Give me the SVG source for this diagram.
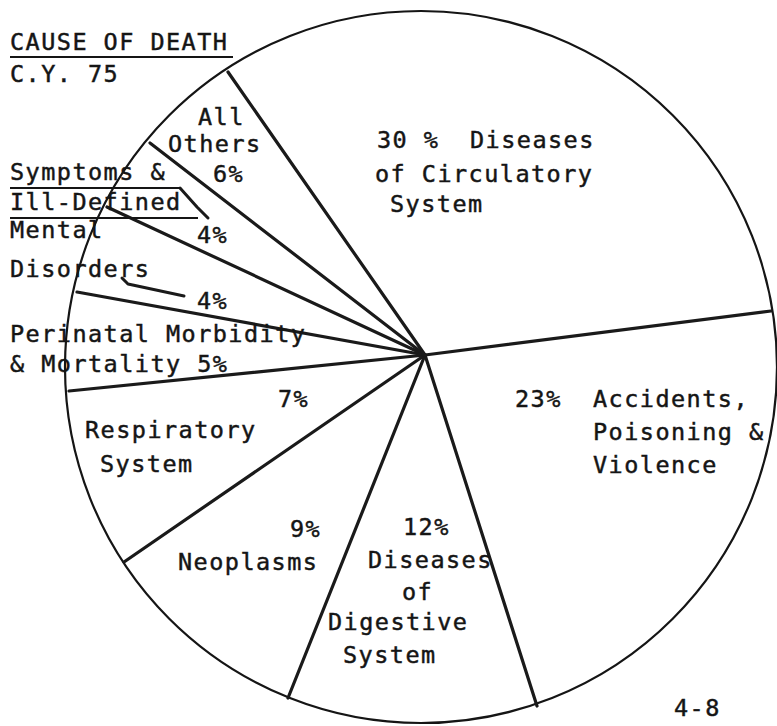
<svg xmlns="http://www.w3.org/2000/svg" width="777" height="726" viewBox="0 0 777 726">
<style>
text{font-family:"DejaVu Sans Mono","Liberation Mono",monospace;font-size:23.5px;letter-spacing:1.45px;fill:#151515;stroke:#151515;stroke-width:0.45}
.rim{fill:none;stroke:#151515;stroke-width:2.2}
.spoke{stroke:#1a1a1a;stroke-width:3.2;stroke-linecap:round;fill:none}
.ul{stroke:#151515;stroke-width:2;fill:none}
.lead{stroke:#1a1a1a;stroke-width:3;fill:none;stroke-linecap:round;stroke-linejoin:round}
</style>
<rect width="777" height="726" fill="#ffffff"/>
<circle id="pie-rim" class="rim" cx="421" cy="367" r="356"/>
<g id="connectors">
<line class="spoke" x1="425" y1="355" x2="771" y2="311"/>
<line class="spoke" x1="425" y1="355" x2="537" y2="706"/>
<line class="spoke" x1="425" y1="355" x2="288" y2="698"/>
<line class="spoke" x1="425" y1="355" x2="124" y2="562"/>
<line class="spoke" x1="425" y1="355" x2="69" y2="391"/>
<line class="spoke" x1="425" y1="355" x2="77" y2="292"/>
<line class="spoke" x1="425" y1="355" x2="107" y2="207"/>
<line class="spoke" x1="425" y1="355" x2="150" y2="143"/>
<line class="spoke" x1="425" y1="355" x2="228" y2="72"/>
<polyline class="lead" points="180,188 197,207 208,218"/>
<polyline class="lead" points="122,278 128,284 184,296"/>
</g>
<g id="title">
<text x="10" y="50">CAUSE OF DEATH</text>
<line class="ul" x1="10" y1="57" x2="233" y2="57"/>
<text x="10" y="82">C.Y. 75</text>
</g>
<g id="circulatory">
<text y="148"><tspan x="377">30 %</tspan><tspan x="470">Diseases</tspan></text>
<text x="375" y="182">of Circulatory</text>
<text x="390" y="212">System</text>
</g>
<g id="accidents">
<text x="515" y="407">23%</text>
<text x="593" y="407">Accidents,</text>
<text x="593" y="440">Poisoning &amp;</text>
<text x="593" y="473">Violence</text>
</g>
<g id="digestive">
<text x="403" y="535">12%</text>
<text x="368" y="568">Diseases</text>
<text x="402" y="600">of</text>
<text x="328" y="630">Digestive</text>
<text x="343" y="663">System</text>
</g>
<g id="neoplasms">
<text x="290" y="537">9%</text>
<text x="178" y="570">Neoplasms</text>
</g>
<g id="respiratory">
<text x="278" y="407">7%</text>
<text x="85" y="438">Respiratory</text>
<text x="100" y="472">System</text>
</g>
<g id="perinatal">
<text x="10" y="342">Perinatal Morbidity</text>
<text x="10" y="372">&amp; Mortality 5%</text>
</g>
<g id="mental">
<text x="10" y="238">Mental</text>
<text x="10" y="277">Disorders</text>
<text x="197" y="309">4%</text>
</g>
<g id="symptoms">
<text x="10" y="180">Symptoms &amp;</text>
<line class="ul" x1="10" y1="188" x2="180" y2="188"/>
<text x="10" y="210">Ill-Defined</text>
<line class="ul" x1="10" y1="218" x2="198" y2="218"/>
<text x="197" y="243">4%</text>
</g>
<g id="all-others">
<text x="198" y="125">All</text>
<text x="168" y="152">Others</text>
<text x="213" y="182">6%</text>
</g>
<g id="page-number">
<text x="674" y="716">4-8</text>
</g>
</svg>
